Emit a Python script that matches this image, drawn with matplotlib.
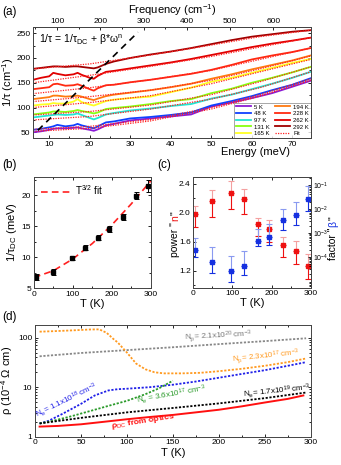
import numpy as np
import matplotlib
matplotlib.use("Agg")
import matplotlib.pyplot as plt
from matplotlib.ticker import MultipleLocator, LogLocator, NullFormatter, FixedLocator, FixedFormatter

plt.rcParams['font.family'] = ['Liberation Sans', 'DejaVu Sans']
plt.rcParams['mathtext.fontset'] = 'custom'
plt.rcParams['mathtext.rm'] = 'Liberation Sans'
plt.rcParams['mathtext.it'] = 'Liberation Sans:italic'
plt.rcParams['mathtext.bf'] = 'Liberation Sans:bold'
plt.rcParams['xtick.direction'] = 'in'
plt.rcParams['ytick.direction'] = 'in'
plt.rcParams['xtick.labelsize'] = 6
plt.rcParams['ytick.labelsize'] = 6
plt.rcParams['axes.linewidth'] = 0.7
plt.rcParams['axes.edgecolor'] = '#444444'

# ---------------- panel (a): scattering rate spectra ----------------
energy = [6, 8, 10, 11, 12, 14, 16, 17, 18, 20, 21, 22, 24, 26, 30, 35, 40, 45, 50, 55, 60, 65, 70, 74.5]
rate_5K = [50, 52, 55, 57, 58, 58, 59, 60, 58, 55, 53, 56, 64, 67, 74, 78, 82, 86, 102, 110, 119, 129, 142, 154]
rate_48K = [55, 57, 60, 62, 65, 62, 64, 67, 64, 60, 58, 62, 70, 72, 78, 81, 85, 90, 104, 113, 123, 135, 146, 159]
rate_97K = [80, 82, 84, 85, 86, 85, 86, 88, 85, 79, 76, 79, 86, 89, 94, 98, 103, 107, 118, 126, 137, 148, 160, 172]
rate_131K = [86, 88, 90, 92, 92, 91, 93, 95, 93, 90, 88, 90, 97, 99, 102, 107, 113, 117, 129, 138, 150, 160, 171, 182]
rate_165K = [104, 106, 107, 109, 108, 108, 112, 117, 111, 106, 104, 107, 113, 116, 119, 122, 131, 140, 152, 160, 170, 180, 190, 198]
rate_194K = [117, 119, 121, 124, 124, 122, 123, 124, 122, 117, 115, 118, 123, 126, 130, 135, 141, 148, 158, 167, 177, 186, 195, 205]
rate_228K = [137, 139, 141, 147, 148, 144, 145, 147, 144, 137, 134, 139, 145, 146, 151, 156, 162, 168, 176, 186, 197, 205, 212, 220]
rate_262K = [156, 160, 163, 170, 168, 165, 167, 170, 166, 160, 158, 164, 172, 174, 179, 185, 191, 198, 206, 214, 222, 229, 235, 241]
rate_292K = [178, 180, 182, 183, 183, 182, 183, 183, 182, 180, 179, 181, 188, 193, 200, 207, 213, 220, 228, 236, 243, 248, 253, 256]

fit_energy = [6, 20, 35, 50, 62, 74.5]
fit_5K = [52, 58, 73, 97, 123, 155]
fit_48K = [56, 62, 76, 100, 126, 158]
fit_97K = [75, 82, 97, 117, 140, 172]
fit_131K = [85, 92, 105, 126, 152, 182]
fit_165K = [100, 110, 124, 148, 172, 197]
fit_194K = [112, 122, 135, 155, 178, 204]
fit_228K = [128, 140, 156, 175, 197, 220]
fit_262K = [150, 165, 183, 203, 222, 241]
fit_292K = [178, 188, 206, 226, 243, 256]

temp_labels = ['5 K', '48 K', '97 K', '131 K', '165 K', '194 K', '228 K', '262 K', '292 K']
temp_colors = ['#8a1ad6', '#1040ff', '#22e6d2', '#88ff10', '#ffff22', '#ff7a10', '#ff2a10', '#e00000', '#a00000']
rates = [rate_5K, rate_48K, rate_97K, rate_131K, rate_165K, rate_194K, rate_228K, rate_262K, rate_292K]
fits = [fit_5K, fit_48K, fit_97K, fit_131K, fit_165K, fit_194K, fit_228K, fit_262K, fit_292K]

guide_energy = [7.2, 31.9]
guide_rate = [54, 252]

# ---------------- panel (b) ----------------
temps = [5, 48, 97, 131, 165, 194, 228, 262, 292]
rate_dc = [6.75, 7.55, 9.9, 11.5, 13.15, 14.5, 16.45, 19.9, 21.5]
rate_dc_err = [0.5, 0.45, 0.35, 0.4, 0.4, 0.45, 0.5, 0.55, 0.95]
fit_T = [0, 50, 100, 150, 200, 250, 300]
fit_rate_dc = [6.7, 7.8, 9.7, 12.2, 15.2, 18.6, 22.3]

# ---------------- panel (c) ----------------
power_n = [1.98, 2.16, 2.28, 2.19, 1.84, 1.78, 1.55, 1.47, 1.26]
power_n_lo = [1.80, 1.94, 2.05, 1.98, 1.68, 1.60, 1.39, 1.29, 1.08]
power_n_hi = [2.10, 2.31, 2.44, 2.33, 1.93, 1.90, 1.67, 1.61, 1.43]
beta = [2.0e-4, 6.0e-5, 2.5e-5, 4.3e-5, 4.5e-4, 7.0e-4, 3.4e-3, 5.5e-3, 2.6e-2]
beta_lo = [9.8e-5, 2.2e-5, 9.1e-6, 1.7e-5, 2.8e-4, 3.0e-4, 1.3e-3, 2.1e-3, 8.5e-3]
beta_hi = [6.3e-4, 2.6e-4, 1.1e-4, 1.7e-4, 1.5e-3, 2.4e-3, 1.0e-2, 1.9e-2, 8.9e-2]

# ---------------- panel (d) ----------------
T_orange = [5, 20, 40, 60, 70, 78, 85, 90, 100, 110, 120, 130, 140, 160, 180, 200, 225, 250, 275, 295]
rho_orange = [132, 135, 140, 146, 147, 125, 95, 80, 50, 30, 23, 20, 19, 19, 19.5, 21, 23.5, 27, 32, 38]
T_grey = [5, 50, 100, 150, 200, 250, 295]
rho_grey = [42, 49, 56, 64, 74, 85, 97]
T_blue = [5, 15, 30, 50, 65, 80, 90, 100, 125, 150, 175, 200, 225, 250, 275, 295]
rho_blue = [1.85, 2.1, 2.9, 4.6, 6.8, 8.6, 9.1, 9.3, 10.0, 11.2, 13, 15.5, 18.5, 22, 27, 32]
T_green = [5, 20, 40, 60, 80, 100, 120, 135, 150]
rho_green = [1.85, 2.1, 2.6, 3.3, 4.2, 5.3, 7.2, 9.5, 13.5]
T_black = [5, 50, 100, 150, 200, 250, 295]
rho_black = [1.85, 2.4, 3.1, 3.8, 4.7, 6.0, 7.8]
T_red = [5, 25, 50, 75, 100, 125, 150, 175, 200, 225, 250, 275, 292]
rho_red = [1.6, 1.65, 1.78, 2.0, 2.25, 2.5, 2.75, 3.1, 3.5, 4.1, 4.9, 5.8, 6.8]

W, H = 341, 465
fig = plt.figure(figsize=(W / 100, H / 100), dpi=100)


def box(l, t, r, b):
    return [l / W, 1 - b / H, (r - l) / W, (b - t) / H]


def colored_vlabel(x, yc, parts, fs=7.5, gap=1.0):
    # stack rotated text pieces bottom-to-top, centred on yc (pixels from top)
    txts = []
    for s, c in parts:
        txts.append(fig.text(0, 0, s, color=c, fontsize=fs, rotation=90, ha='center', va='bottom'))
    fig.canvas.draw()
    r = fig.canvas.get_renderer()
    hs = [t.get_window_extent(r).height for t in txts]
    y = (H - yc) - (sum(hs) + gap * (len(hs) - 1)) / 2
    for t, h in zip(txts, hs):
        t.set_position((x / W, y / H))
        y += h + gap


# (a)
ax = fig.add_axes(box(33, 27, 311, 138))
for col, lab, rt in zip(temp_colors, temp_labels, rates):
    ax.plot(energy, rt, color=col, lw=1.3, label=lab)
for ft in fits:
    ax.plot(fit_energy, ft, color='#ff2020', lw=0.9, ls=(0, (1, 1)))
ax.plot([], [], color='#ff2020', lw=0.9, ls=(0, (1, 1)), label='Fit')
ax.plot(guide_energy, guide_rate, color='black', lw=1.2, ls=(0, (4, 3)))
ax.set_xlim(6, 74.6)
ax.set_ylim(38.5, 262.5)
ax.xaxis.set_major_locator(MultipleLocator(10))
ax.xaxis.set_minor_locator(MultipleLocator(5))
ax.yaxis.set_major_locator(MultipleLocator(50))
ax.yaxis.set_minor_locator(MultipleLocator(25))
ax.tick_params(which='both', right=True, length=2.5, width=0.6, pad=2)
ax.tick_params(which='minor', length=1.5)
ax.set_ylabel('1/τ (cm$^{-1}$)', fontsize=8)
ax.yaxis.set_label_coords(-0.062, 0.5)
ax.set_xlabel('Energy (meV)', fontsize=8)
ax.xaxis.set_label_coords(0.8, -0.085)
ax.text(0.02, 0.95, '1/τ = 1/τ$_{\\rm DC}$ + β*ω$^{\\rm n}$', transform=ax.transAxes,
        fontsize=7.5, ha='left', va='top')
leg = ax.legend(ncol=2, loc='lower right', fontsize=4.3, frameon=True, fancybox=False,
                borderpad=0.3, handlelength=2.6, handletextpad=0.5, columnspacing=0.8,
                labelspacing=0.25, borderaxespad=0.0)
leg.get_frame().set_edgecolor('#666666')
leg.get_frame().set_linewidth(0.5)
ax2 = ax.twiny()
ax2.set_xlim(44.5, 687)
ax2.xaxis.set_major_locator(MultipleLocator(100))
ax2.xaxis.set_minor_locator(MultipleLocator(50))
ax2.tick_params(which='both', length=2.5, width=0.6, pad=1.5)
ax2.tick_params(which='minor', length=1.5)
ax2.set_xlabel('Frequency (cm$^{-1}$)', fontsize=8, labelpad=2.5)

# (b)
bx = fig.add_axes(box(34, 176.7, 150.7, 288))
bx.plot(fit_T, fit_rate_dc, color='#ff2020', lw=1.2, ls=(0, (4, 2.5)), label='T$^{3/2}$ fit')
bx.errorbar(temps, rate_dc, yerr=rate_dc_err, fmt='s', color='black', ms=2.5,
            capsize=1.8, elinewidth=0.7, capthick=0.7)
bx.set_xlim(0, 300)
bx.set_ylim(5, 23)
bx.xaxis.set_major_locator(MultipleLocator(100))
bx.xaxis.set_minor_locator(MultipleLocator(50))
bx.yaxis.set_major_locator(MultipleLocator(5))
bx.yaxis.set_minor_locator(MultipleLocator(2.5))
bx.tick_params(which='both', right=True, top=True, length=2.5, width=0.6, pad=2)
bx.tick_params(which='minor', length=1.5)
bx.set_xlabel('T (K)', fontsize=8, labelpad=1)
bx.set_ylabel('1/τ$_{\\rm DC}$ (meV)', fontsize=8, labelpad=2)
bx.legend(loc='upper left', fontsize=7, frameon=False, handlelength=3, borderaxespad=0.3,
          handletextpad=0.5)

# (c)
cx = fig.add_axes(box(192.7, 176.7, 311, 287.7))
n_arr = np.array(power_n)
cx.errorbar(temps, n_arr, yerr=[n_arr - np.array(power_n_lo), np.zeros(len(n_arr))],
            fmt='none', ecolor='#ee1111', elinewidth=0.8, capsize=2, capthick=0.8)
cx.errorbar(temps, n_arr, yerr=[np.zeros(len(n_arr)), np.array(power_n_hi) - n_arr],
            fmt='none', ecolor='#f4a0a0', elinewidth=0.8, capsize=2, capthick=0.8)
cx.plot(temps, power_n, 's', color='#ee1111', ms=2.5)
cx.set_xlim(0, 300)
cx.set_ylim(0.965, 2.5)
cx.xaxis.set_major_locator(MultipleLocator(100))
cx.xaxis.set_minor_locator(MultipleLocator(50))
cx.yaxis.set_major_locator(MultipleLocator(0.4))
cx.yaxis.set_minor_locator(MultipleLocator(0.2))
cx.tick_params(which='both', top=True, length=2.5, width=0.6, pad=1.5)
cx.tick_params(which='minor', length=1.5)
cx.yaxis.set_major_formatter(matplotlib.ticker.FormatStrFormatter('%.1f'))
cx.set_xlabel('T (K)', fontsize=8, labelpad=1)

cr = cx.twinx()
b_arr = np.array(beta)
cr.errorbar(temps, b_arr, yerr=[b_arr - np.array(beta_lo), np.zeros(len(b_arr))],
            fmt='none', ecolor='#1530e0', elinewidth=0.8, capsize=2, capthick=0.8)
cr.errorbar(temps, b_arr, yerr=[np.zeros(len(b_arr)), np.array(beta_hi) - b_arr],
            fmt='none', ecolor='#8a9af0', elinewidth=0.8, capsize=2, capthick=0.8)
cr.plot(temps, beta, 's', color='#1530e0', ms=2.5)
cr.set_yscale('log')
cr.set_ylim(5.2e-6, 0.22)
cr.yaxis.set_major_locator(FixedLocator([1e-4, 1e-3, 1e-2, 1e-1]))
cr.yaxis.set_major_formatter(FixedFormatter(['10$^{-4}$', '10$^{-3}$', '10$^{-2}$', '10$^{-1}$']))
cr.yaxis.set_minor_locator(LogLocator(base=10, subs=np.arange(2, 10), numticks=20))
cr.yaxis.set_minor_formatter(NullFormatter())
cr.tick_params(which='both', length=2.5, width=0.6, pad=1.2, labelsize=5)
cr.tick_params(which='minor', length=1.3)

# (d)
dx = fig.add_axes(box(35, 325, 310.7, 436.7))
dstyle = dict(lw=1.3, ls=(0, (1.2, 0.9)))
dx.plot(T_grey, rho_grey, color='#888888', **dstyle)
dx.plot(T_orange, rho_orange, color='#ff9a20', **dstyle)
dx.plot(T_blue, rho_blue, color='#2020e8', **dstyle)
dx.plot(T_green, rho_green, color='#2a9a2a', **dstyle)
dx.plot(T_black, rho_black, color='black', **dstyle)
dx.plot(T_red, rho_red, color='#ff1010', lw=1.4)
dx.set_yscale('log')
dx.set_xlim(0, 300)
dx.set_ylim(1, 180)
dx.xaxis.set_major_locator(MultipleLocator(50))
dx.xaxis.set_minor_locator(MultipleLocator(25))
dx.yaxis.set_major_locator(FixedLocator([1, 10, 100]))
dx.yaxis.set_major_formatter(FixedFormatter(['1', '10', '100']))
dx.yaxis.set_minor_locator(LogLocator(base=10, subs=np.arange(2, 10), numticks=20))
dx.yaxis.set_minor_formatter(NullFormatter())
dx.tick_params(which='both', right=True, top=True, length=2.5, width=0.6, pad=2)
dx.tick_params(which='minor', length=1.5)
dx.set_xlabel('T (K)', fontsize=8, labelpad=1)
dx.set_ylabel('ρ (10$^{-4}$ Ω cm)', fontsize=8, labelpad=2)
afs = 5.8
dx.text(163, 95, 'N$_{\\rm p}$= 2.1x10$^{20}$ cm$^{-3}$', color='#777777', fontsize=afs,
        ha='left', va='center', rotation=3, rotation_mode='anchor')
dx.text(215, 35, 'N$_{\\rm p}$= 2.3x10$^{17}$ cm$^{-3}$', color='#ff9a20', fontsize=afs,
        ha='left', va='center', rotation=6, rotation_mode='anchor')
dx.text(35, 5.3, 'N$_{\\rm e}$= 1.1x10$^{18}$ cm$^{-3}$', color='#2020e8', fontsize=afs,
        ha='center', va='center', rotation=26, rotation_mode='anchor')
dx.text(148, 6.9, 'N$_{\\rm e}$ = 3.6x10$^{17}$ cm$^{-3}$', color='#2a9a2a', fontsize=afs,
        ha='center', va='center', rotation=10, rotation_mode='anchor')
dx.text(263, 8.3, 'N$_{\\rm e}$= 1.7x10$^{19}$ cm$^{-3}$', color='black', fontsize=afs,
        ha='center', va='center', rotation=6, rotation_mode='anchor')
dx.text(117, 2.0, 'ρ$_{\\rm DC}$ from optics', color='#ff1010', fontsize=afs + 0.3,
        fontweight='bold', ha='center', va='center', rotation=9, rotation_mode='anchor')

for lab, x, y in [('(a)', 2, 12), ('(b)', 2, 165), ('(c)', 157, 165), ('(d)', 2, 317)]:
    fig.text(x / W, 1 - y / H, lab, fontsize=8.5, ha='left', va='center')

colored_vlabel(175, 234, [('power "', 'black'), ('n', '#ee1111'), ('"', 'black')])
colored_vlabel(333, 238, [('factor "', 'black'), ('β', '#1530e0'), ('"', 'black')])

fig.savefig('out.png', dpi=100)
